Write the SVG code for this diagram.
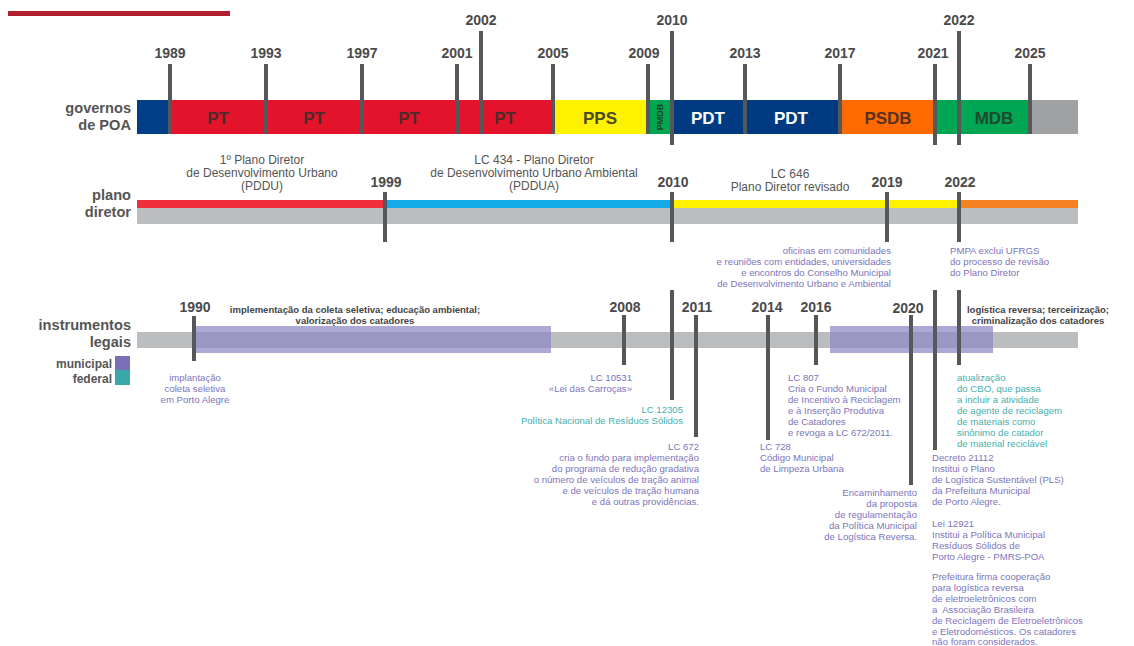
<svg xmlns="http://www.w3.org/2000/svg" width="1134" height="646" viewBox="0 0 1134 646">
<style>
.tk{fill:#555759}
.yr{font-family:"Liberation Sans",Arial,sans-serif;font-weight:bold;font-size:14px;fill:#4a4a4a;text-anchor:middle}
.side{font-family:"Liberation Sans",Arial,sans-serif;font-weight:bold;font-size:14.6px;fill:#555;text-anchor:end}
.leg{font-family:"Liberation Sans",Arial,sans-serif;font-weight:bold;font-size:12px;fill:#555;text-anchor:end}
.bt{font-family:"Liberation Sans",Arial,sans-serif;font-weight:bold;font-size:17px;text-anchor:middle}
.pd{font-family:"Liberation Sans",Arial,sans-serif;font-size:12px;fill:#555;text-anchor:middle}
.pu{font-family:"Liberation Sans",Arial,sans-serif;font-size:9.6px;fill:#7d75ba}
.te{font-family:"Liberation Sans",Arial,sans-serif;font-size:9.6px;fill:#3fb0b0}
.bl{font-family:"Liberation Sans",Arial,sans-serif;font-weight:bold;font-size:9.5px;fill:#444;text-anchor:middle}
.band{fill:#8f88c4;fill-opacity:0.72}
</style>
<rect x="8" y="11" width="222" height="5" fill="#b0202f"/>

<g id="governos">
<text class="side" x="131" y="113">governos</text>
<text class="side" x="131" y="130">de POA</text>
<rect x="137" y="100" width="33" height="34" fill="#003f87"/>
<rect x="170" y="100" width="383" height="34" fill="#e3132c"/>
<rect x="553" y="100" width="95" height="34" fill="#fff200"/>
<rect x="648" y="100" width="24" height="34" fill="#00a651"/>
<rect x="672" y="100" width="168" height="34" fill="#003a80"/>
<rect x="840" y="100" width="95" height="34" fill="#ff6a00"/>
<rect x="935" y="100" width="95" height="34" fill="#00a651"/>
<rect x="1030" y="100" width="48" height="34" fill="#a0a1a3"/>
<text class="bt" x="218" y="124" fill="#4e2a2a">PT</text>
<text class="bt" x="314" y="124" fill="#4e2a2a">PT</text>
<text class="bt" x="409" y="124" fill="#4e2a2a">PT</text>
<text class="bt" x="505" y="124" fill="#4e2a2a">PT</text>
<text class="bt" x="600" y="124" fill="#4a4a2a">PPS</text>
<text x="663" y="117" transform="rotate(-90 663 117)" font-family="Liberation Sans,Arial,sans-serif" font-weight="bold" font-size="9" fill="#1d4a2a" text-anchor="middle">PMDB</text>
<text class="bt" x="708" y="124" fill="#ffffff">PDT</text>
<text class="bt" x="791" y="124" fill="#ffffff">PDT</text>
<text class="bt" x="888" y="124" fill="#5a3020">PSDB</text>
<text class="bt" x="994" y="124" fill="#1f4a2c">MDB</text>
<rect class="tk" x="168" y="64" width="4" height="70"/>
<rect class="tk" x="264" y="64" width="4" height="70"/>
<rect class="tk" x="360" y="64" width="4" height="70"/>
<rect class="tk" x="455" y="64" width="4" height="70"/>
<rect class="tk" x="479" y="31" width="4" height="103"/>
<rect class="tk" x="551" y="64" width="4" height="70"/>
<rect class="tk" x="646" y="64" width="4" height="70"/>
<rect class="tk" x="670" y="31" width="4" height="114"/>
<rect class="tk" x="743" y="64" width="4" height="70"/>
<rect class="tk" x="838" y="64" width="4" height="70"/>
<rect class="tk" x="933" y="64" width="4" height="81"/>
<rect class="tk" x="957" y="31" width="4" height="114"/>
<rect class="tk" x="1028" y="64" width="4" height="70"/>
<text class="yr" x="170" y="58">1989</text>
<text class="yr" x="266" y="58">1993</text>
<text class="yr" x="362" y="58">1997</text>
<text class="yr" x="457" y="58">2001</text>
<text class="yr" x="481" y="25">2002</text>
<text class="yr" x="553" y="58">2005</text>
<text class="yr" x="644" y="58">2009</text>
<text class="yr" x="672" y="25">2010</text>
<text class="yr" x="745" y="58">2013</text>
<text class="yr" x="840" y="58">2017</text>
<text class="yr" x="933" y="58">2021</text>
<text class="yr" x="959" y="25">2022</text>
<text class="yr" x="1030" y="58">2025</text>
</g>

<g id="plano">
<text class="side" x="131" y="200">plano</text>
<text class="side" x="131" y="217">diretor</text>
<rect x="137" y="208" width="941" height="16" fill="#bcbdbf"/>
<rect x="137" y="200" width="248" height="8" fill="#ee2f3a"/>
<rect x="385" y="200" width="287" height="8" fill="#15aae8"/>
<rect x="672" y="200" width="287" height="8" fill="#fff200"/>
<rect x="959" y="200" width="119" height="8" fill="#f58220"/>
<rect class="tk" x="383" y="192" width="4" height="50"/>
<rect class="tk" x="670" y="192" width="4" height="50"/>
<rect class="tk" x="885" y="192" width="4" height="50"/>
<rect class="tk" x="957" y="192" width="4" height="50"/>
<text class="yr" x="386" y="187">1999</text>
<text class="yr" x="673" y="187">2010</text>
<text class="yr" x="887" y="187">2019</text>
<text class="yr" x="960" y="187">2022</text>
<text class="pd" x="262" y="164">1º Plano Diretor</text>
<text class="pd" x="262" y="177">de Desenvolvimento Urbano</text>
<text class="pd" x="262" y="190">(PDDU)</text>
<text class="pd" x="534" y="164">LC 434 - Plano Diretor</text>
<text class="pd" x="534" y="177">de Desenvolvimento Urbano Ambiental</text>
<text class="pd" x="534" y="190">(PDDUA)</text>
<text class="pd" x="790" y="178">LC 646</text>
<text class="pd" x="790" y="191">Plano Diretor revisado</text>
<text class="pu" text-anchor="end" x="891" y="254">oficinas em comunidades</text>
<text class="pu" text-anchor="end" x="891" y="265">e reuniões com entidades, universidades</text>
<text class="pu" text-anchor="end" x="891" y="276">e encontros do Conselho Municipal</text>
<text class="pu" text-anchor="end" x="891" y="287">de Desenvolvimento Urbano e Ambiental</text>
<text class="pu" x="950" y="254">PMPA exclui UFRGS</text>
<text class="pu" x="950" y="265">do processo de revisão</text>
<text class="pu" x="950" y="276">do Plano Diretor</text>
</g>

<g id="instrumentos">
<text class="side" x="131" y="330">instrumentos</text>
<text class="side" x="131" y="347">legais</text>
<text class="leg" x="112" y="368">municipal</text>
<text class="leg" x="112" y="383">federal</text>
<rect x="115" y="356" width="15" height="14" fill="#7b6fb8"/>
<rect x="115" y="370" width="15" height="15" fill="#3aa8a8"/>
<rect x="137" y="332" width="941" height="16" fill="#bcbdbf"/>
<rect class="band" x="193" y="326" width="358" height="27"/>
<rect class="band" x="830" y="326" width="163" height="27"/>
<rect class="tk" x="192" y="316" width="4" height="45"/>
<rect class="tk" x="622" y="315" width="4" height="50"/>
<rect class="tk" x="670" y="290" width="4" height="110"/>
<rect class="tk" x="694" y="315" width="4" height="122"/>
<rect class="tk" x="766" y="315" width="4" height="125"/>
<rect class="tk" x="814" y="315" width="4" height="50"/>
<rect class="tk" x="909" y="315" width="4" height="170"/>
<rect class="tk" x="933" y="290" width="4" height="160"/>
<rect class="tk" x="957" y="290" width="4" height="75"/>
<text class="yr" x="195" y="312">1990</text>
<text class="yr" x="625" y="312">2008</text>
<text class="yr" x="697" y="312">2011</text>
<text class="yr" x="767" y="312">2014</text>
<text class="yr" x="816" y="312">2016</text>
<text class="yr" x="908" y="313">2020</text>
<text class="bl" x="355" y="313">implementação da coleta seletiva; educação ambiental;</text>
<text class="bl" x="355" y="324">valorização dos catadores</text>
<text class="bl" x="1038" y="313">logística reversa; terceirização;</text>
<text class="bl" x="1038" y="324">criminalização dos catadores</text>

<text class="pu" text-anchor="middle" x="195" y="381">implantação</text>
<text class="pu" text-anchor="middle" x="195" y="392">coleta seletiva</text>
<text class="pu" text-anchor="middle" x="195" y="403">em Porto Alegre</text>

<text class="pu" text-anchor="end" x="632" y="381">LC 10531</text>
<text class="pu" text-anchor="end" x="632" y="392">«Lei das Carroças»</text>

<text class="te" text-anchor="end" x="683" y="413">LC 12305</text>
<text class="te" text-anchor="end" x="683" y="424">Política Nacional de Resíduos Sólidos</text>

<text class="pu" text-anchor="end" x="699" y="450">LC 672</text>
<text class="pu" text-anchor="end" x="699" y="461">cria o fundo para implementação</text>
<text class="pu" text-anchor="end" x="699" y="472">do programa de redução gradativa</text>
<text class="pu" text-anchor="end" x="699" y="483">o número de veículos de tração animal</text>
<text class="pu" text-anchor="end" x="699" y="494">e de veículos de tração humana</text>
<text class="pu" text-anchor="end" x="699" y="505">e dá outras providências.</text>

<text class="pu" x="760" y="450">LC 728</text>
<text class="pu" x="760" y="461">Código Municipal</text>
<text class="pu" x="760" y="472">de Limpeza Urbana</text>

<text class="pu" x="788" y="381">LC 807</text>
<text class="pu" x="788" y="392">Cria o Fundo Municipal</text>
<text class="pu" x="788" y="403">de Incentivo à Reciclagem</text>
<text class="pu" x="788" y="414">e à Inserção Produtiva</text>
<text class="pu" x="788" y="425">de Catadores</text>
<text class="pu" x="788" y="436">e revoga a LC 672/2011.</text>

<text class="pu" text-anchor="end" x="917" y="496">Encaminhamento</text>
<text class="pu" text-anchor="end" x="917" y="507">da proposta</text>
<text class="pu" text-anchor="end" x="917" y="518">de regulamentação</text>
<text class="pu" text-anchor="end" x="917" y="529">da Política Municipal</text>
<text class="pu" text-anchor="end" x="917" y="540">de Logística Reversa.</text>

<text class="te" x="957" y="381">atualização</text>
<text class="te" x="957" y="392">do CBO, que passa</text>
<text class="te" x="957" y="403">a incluir a atividade</text>
<text class="te" x="957" y="414">de agente de reciclagem</text>
<text class="te" x="957" y="425">de materiais como</text>
<text class="te" x="957" y="436">sinônimo de catador</text>
<text class="te" x="957" y="447">de material reciclável</text>

<text class="pu" x="932" y="461">Decreto 21112</text>
<text class="pu" x="932" y="472">Institui o Plano</text>
<text class="pu" x="932" y="483">de Logística Sustentável (PLS)</text>
<text class="pu" x="932" y="494">da Prefeitura Municipal</text>
<text class="pu" x="932" y="505">de Porto Alegre.</text>

<text class="pu" x="932" y="527">Lei 12921</text>
<text class="pu" x="932" y="538">Institui a Política Municipal</text>
<text class="pu" x="932" y="549">Resíduos Sólidos de</text>
<text class="pu" x="932" y="560">Porto Alegre - PMRS-POA</text>

<text class="pu" x="932" y="580">Prefeitura firma cooperação</text>
<text class="pu" x="932" y="591">para logística reversa</text>
<text class="pu" x="932" y="602">de eletroeletrônicos com</text>
<text class="pu" x="932" y="613" xml:space="preserve">a  Associação Brasileira</text>
<text class="pu" x="932" y="624">de Reciclagem de Eletroeletrônicos</text>
<text class="pu" x="932" y="635">e Eletrodomésticos. Os catadores</text>
<text class="pu" x="932" y="645">não foram considerados.</text>
</g>
</svg>
